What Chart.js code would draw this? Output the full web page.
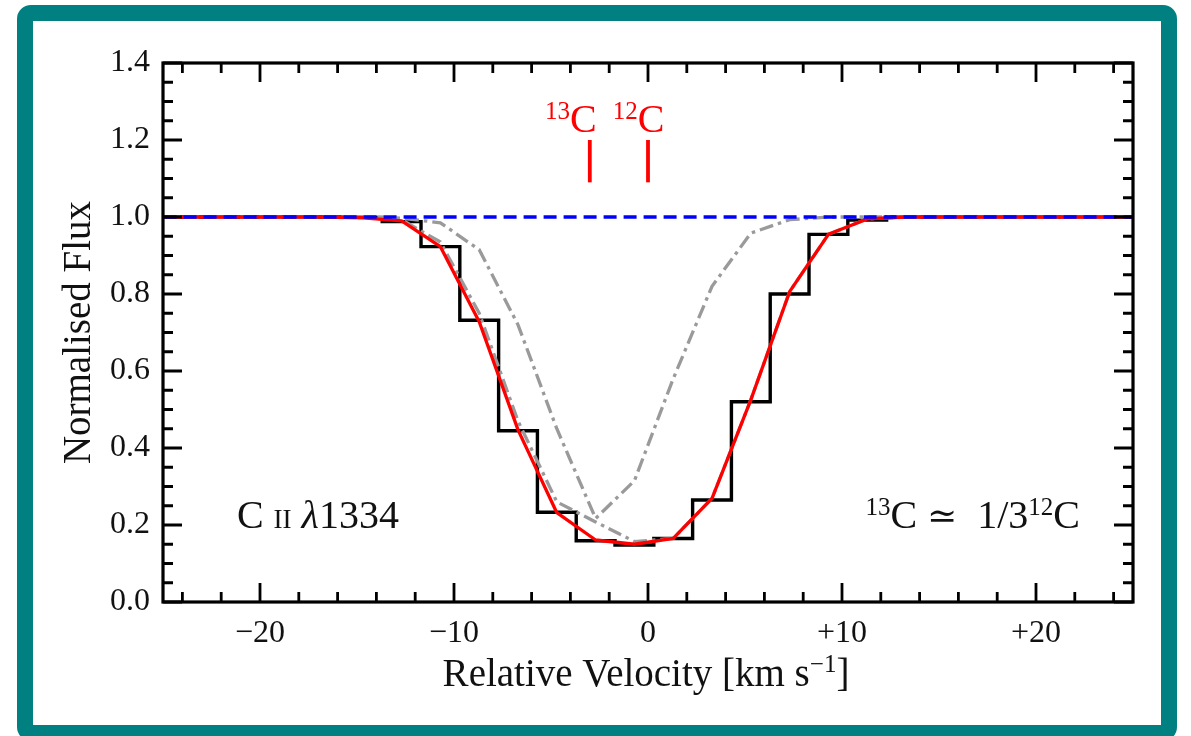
<!DOCTYPE html>
<html><head><meta charset="utf-8">
<script src="https://cdn.jsdelivr.net/npm/chart.js@4.4.1/dist/chart.umd.min.js"></script>
<style>
html,body{margin:0;padding:0;background:#fff;width:1191px;height:736px;overflow:hidden}
#frame{position:absolute;left:17px;top:5px;width:1128px;height:704px;border:16px solid #008080;border-radius:14px;}
#wrap{position:absolute;left:0;top:0;width:1191px;height:736px}
</style></head><body>
<div id="frame"></div>
<div id="wrap"><canvas id="c" width="1191" height="736"></canvas></div>
<script>
// ---- data ----
const velocity = [-26.7,-24.7,-22.7,-20.7,-18.7,-16.7,-14.7,-12.7,-10.7,-8.7,-6.7,-4.7,-2.7,-0.7,1.3,3.3,5.3,7.3,9.3,11.3,13.3,15.3,17.3,19.3,21.3,23.3,25.3];
const observedFlux = [1.0,1.0,1.0,1.0,1.0,1.0,0.999,0.988,0.923,0.732,0.445,0.233,0.159,0.148,0.165,0.265,0.520,0.800,0.955,0.992,1.0,1.0,1.0,1.0,1.0,1.0,1.0];
const bestFitFlux = [1.0,1.0,1.0,1.0,1.0,1.0,0.998,0.990,0.923,0.728,0.447,0.232,0.161,0.150,0.165,0.269,0.525,0.806,0.955,0.995,1.0,1.0,1.0,1.0,1.0,1.0,1.0];
const model12CFlux = [1.0,1.0,1.0,1.0,1.0,1.0,0.999,0.993,0.935,0.750,0.470,0.260,0.208,0.157,0.165,0.269,0.525,0.806,0.955,0.995,1.0,1.0,1.0,1.0,1.0,1.0,1.0];
const model13CFlux = [1.0,1.0,1.0,1.0,1.0,1.0,1.0,0.997,0.985,0.915,0.720,0.450,0.217,0.315,0.580,0.820,0.958,0.993,1.0,1.0,1.0,1.0,1.0,1.0,1.0,1.0,1.0];
const continuumVel = [-26, 26];
const continuumFlux = [1.0, 1.0];
const isotopeVel = [-3.0, 0.0];
const isotopeNames = ['13', '12'];
const markerFlux = [1.09, 1.20];
const xTickValues = [-20,-10,0,10,20];
const xMinorTicks = [-24,-22,-18,-16,-14,-12,-8,-6,-4,-2,2,4,6,8,12,14,16,18,22,24];
const yTickValues = [0,0.2,0.4,0.6,0.8,1.0,1.2,1.4];
const yMinorTicks = [0.05,0.1,0.15,0.25,0.3,0.35,0.45,0.5,0.55,0.65,0.7,0.75,0.85,0.9,0.95,1.05,1.1,1.15,1.25,1.3,1.35];

const FONT = "'Liberation Serif','DejaVu Serif',serif";
const pts = (xs, ys) => xs.map((x,i)=>({x:x, y:ys[i]}));

function drawRuns(ctx, runs, x, y, align, color){
  let w = 0;
  runs.forEach(r=>{ctx.font=(r.style||'')+' '+r.size+'px '+FONT; r.w=ctx.measureText(r.t).width; w+=r.w;});
  let cx = align==='center' ? x-w/2 : (align==='right' ? x-w : x);
  ctx.textAlign='left'; ctx.textBaseline='alphabetic'; ctx.fillStyle=color||'#111';
  runs.forEach(r=>{ctx.font=(r.style||'')+' '+r.size+'px '+FONT; ctx.fillText(r.t, cx, y-(r.dy||0)); cx+=r.w;});
}

const framePlugin = {
  id:'frame',
  afterDatasetsDraw(chart){
    const ctx=chart.ctx, xs=chart.scales.x, ys=chart.scales.y;
    const {left,right,top,bottom}=chart.chartArea;
    ctx.save();
    ctx.strokeStyle='#000'; ctx.lineCap='butt';
    ctx.lineWidth=2.8;
    const major=19, minor=10;
    ctx.beginPath();
    xTickValues.forEach(v=>{const p=xs.getPixelForValue(v); ctx.moveTo(p,bottom); ctx.lineTo(p,bottom-major); ctx.moveTo(p,top); ctx.lineTo(p,top+major);});
    xMinorTicks.forEach(v=>{const p=xs.getPixelForValue(v); ctx.moveTo(p,bottom); ctx.lineTo(p,bottom-minor); ctx.moveTo(p,top); ctx.lineTo(p,top+minor);});
    yTickValues.forEach(v=>{const p=ys.getPixelForValue(v); ctx.moveTo(left,p); ctx.lineTo(left+major,p); ctx.moveTo(right,p); ctx.lineTo(right-major,p);});
    yMinorTicks.forEach(v=>{const p=ys.getPixelForValue(v); ctx.moveTo(left,p); ctx.lineTo(left+minor,p); ctx.moveTo(right,p); ctx.lineTo(right-minor,p);});
    ctx.stroke();
    ctx.lineWidth=3.2;
    ctx.strokeRect(left,top,right-left,bottom-top);
    ctx.restore();
  },
  afterDraw(chart){
    const ctx=chart.ctx, xs=chart.scales.x, ys=chart.scales.y;
    ctx.save();
    const labelX=[-5.31,-1.82];
    isotopeNames.forEach((n,i)=>{
      drawRuns(ctx,[{t:n,size:25,dy:13},{t:'C',size:40}], xs.getPixelForValue(labelX[i]), ys.getPixelForValue(1.2216), 'left', '#ff0000');
    });
    drawRuns(ctx,[{t:'C ',size:40},{t:'II',size:27},{t:' ',size:40},{t:'λ',size:40,style:'italic'},{t:'1334',size:40}],
      xs.getPixelForValue(-21.19), ys.getPixelForValue(0.192), 'left');
    drawRuns(ctx,[{t:'13',size:25,dy:13},{t:'C ',size:40},{t:'≃',size:36},{t:'  1/3',size:40},{t:'12',size:25,dy:13},{t:'C',size:40}],
      xs.getPixelForValue(22.27), ys.getPixelForValue(0.192), 'right');
    const xc=(chart.chartArea.left+chart.chartArea.right)/2;
    drawRuns(ctx,[{t:'Relative Velocity [km s',size:39},{t:'−1',size:25,dy:14},{t:']',size:39}], xc-2, 686, 'center');
    ctx.restore();
  }
};

new Chart(document.getElementById('c'), {
  type:'line',
  data:{datasets:[
    {label:'continuum', data:pts(continuumVel,continuumFlux), borderColor:'#0000ff', borderWidth:3.4, borderDash:[13,7], pointRadius:0, order:0},
    {label:'best fit', data:pts(velocity,bestFitFlux), borderColor:'#ff0000', borderWidth:3.3, pointRadius:0, borderJoinStyle:'round', order:1},
    {label:'12C marker', data:pts([isotopeVel[1],isotopeVel[1]],markerFlux), borderColor:'#ff0000', borderWidth:3.8, pointRadius:0, order:1},
    {label:'13C marker', data:pts([isotopeVel[0],isotopeVel[0]],markerFlux), borderColor:'#ff0000', borderWidth:3.8, pointRadius:0, order:1},
    {label:'model 12C', data:pts(velocity,model12CFlux), borderColor:'#9a9a9a', borderWidth:3.3, borderDash:[14,5,3.5,5], pointRadius:0, order:2},
    {label:'model 13C', data:pts(velocity,model13CFlux), borderColor:'#9a9a9a', borderWidth:3.3, borderDash:[14,5,3.5,5], pointRadius:0, order:2},
    {label:'data', data:pts(velocity,observedFlux), borderColor:'#000000', borderWidth:3.4, stepped:'middle', pointRadius:0, borderJoinStyle:'miter', order:3}
  ]},
  options:{
    responsive:false, animation:false, devicePixelRatio:1,
    layout:{padding:{left:0,top:63,right:58,bottom:0}},
    plugins:{legend:{display:false}, tooltip:{enabled:false}},
    elements:{line:{tension:0}},
    datasets:{line:{clip:0}},
    scales:{
      x:{type:'linear', min:-25, max:25,
        afterBuildTicks:s=>{s.ticks=xTickValues.map(v=>({value:v}));},
        afterFit:s=>{s.height=134;},
        grid:{display:false, drawTicks:false}, border:{display:false},
        ticks:{padding:12, color:'#111', font:{family:FONT,size:32}, maxRotation:0, autoSkip:false,
          callback:v=> v<0 ? '\u2212'+Math.abs(v) : (v>0 ? '+'+v : '0')}
      },
      y:{type:'linear', min:0, max:1.4,
        afterBuildTicks:s=>{s.ticks=yTickValues.map(v=>({value:v}));},
        afterFit:s=>{s.width=163;},
        grid:{display:false, drawTicks:false}, border:{display:false},
        ticks:{padding:13, color:'#111', font:{family:FONT,size:32}, autoSkip:false,
          callback:v=>Number(v).toFixed(1)},
        title:{display:true, text:'Normalised Flux', color:'#111', font:{family:FONT,size:39,lineHeight:1}, padding:{top:60,bottom:0}}
      }
    }
  },
  plugins:[framePlugin]
});
</script>
</body></html>
